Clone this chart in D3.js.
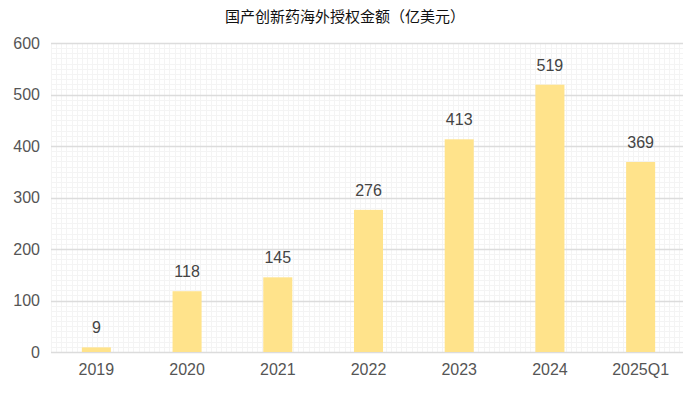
<!DOCTYPE html>
<html>
<head>
<meta charset="utf-8">
<script src="https://cdn.jsdelivr.net/npm/d3@7"></script>
<style>
  body { margin: 0; background: #fff; }
  svg { display: block; font-family: "Liberation Sans", "Noto Sans CJK SC", sans-serif; }
</style>
</head>
<body>
<svg id="chart" width="690" height="397"></svg>
<script>
const title = '国产创新药海外授权金额（亿美元）';
const years = ['2019', '2020', '2021', '2022', '2023', '2024', '2025Q1'];
const amounts = [9, 118, 145, 276, 413, 519, 369];
const yTicks = [0, 100, 200, 300, 400, 500, 600];

const width = 690, height = 397;
const margin = { top: 43, right: 7, bottom: 45, left: 51 };

const svg = d3.select('#chart');

const x = d3.scaleBand()
  .domain(years)
  .range([margin.left, width - margin.right + 3])
  .paddingInner(0.68)
  .paddingOuter(0.34);

const y = d3.scaleLinear()
  .domain([0, 600])
  .range([height - margin.bottom, margin.top]);

// fine background grid
const minorY = d3.range(0, 601, 10);
svg.append('g')
  .selectAll('line')
  .data(minorY)
  .join('line')
  .attr('x1', margin.left)
  .attr('x2', width - margin.right)
  .attr('y1', (d) => Math.round(y(d)) + 0.5)
  .attr('y2', (d) => Math.round(y(d)) + 0.5)
  .attr('stroke', '#f4f4f4');

const step = y(0) - y(10);
const minorX = d3.range(margin.left, width - margin.right, step);
svg.append('g')
  .selectAll('line')
  .data(minorX)
  .join('line')
  .attr('x1', (d) => Math.round(d) + 0.5)
  .attr('x2', (d) => Math.round(d) + 0.5)
  .attr('y1', y(600))
  .attr('y2', y(0))
  .attr('stroke', '#f4f4f4');

// major grid lines
svg.append('g')
  .selectAll('line')
  .data(yTicks)
  .join('line')
  .attr('x1', margin.left)
  .attr('x2', width - margin.right)
  .attr('y1', (d) => Math.round(y(d)) + 0.5)
  .attr('y2', (d) => Math.round(y(d)) + 0.5)
  .attr('stroke', '#dcdcdc')
  .attr('stroke-width', 1.3);

// y axis labels
svg.append('g')
  .attr('transform', `translate(${margin.left - 11},0)`)
  .call(d3.axisLeft(y).tickValues(yTicks).tickSize(0).tickPadding(0))
  .call((g) => g.select('.domain').remove())
  .selectAll('text')
  .attr('fill', '#555')
  .style('font-family', '"Liberation Sans", sans-serif')
  .style('font-size', '16px');

// x axis labels
svg.append('g')
  .attr('transform', `translate(0,${y(0)})`)
  .call(d3.axisBottom(x).tickSize(0).tickPadding(12))
  .call((g) => g.select('.domain').remove())
  .selectAll('text')
  .attr('fill', '#555')
  .style('font-family', '"Liberation Sans", sans-serif')
  .style('font-size', '16px');

// bars
svg.append('g')
  .selectAll('rect')
  .data(amounts)
  .join('rect')
  .attr('x', (d, i) => x(years[i]))
  .attr('y', (d) => y(d))
  .attr('width', x.bandwidth())
  .attr('height', (d) => y(0) - y(d))
  .attr('fill', '#ffe38b');

// value labels
svg.append('g')
  .selectAll('text')
  .data(amounts)
  .join('text')
  .attr('x', (d, i) => x(years[i]) + x.bandwidth() / 2)
  .attr('y', (d) => y(d) - 14)
  .attr('text-anchor', 'middle')
  .attr('fill', '#444')
  .style('font-size', '16px')
  .text((d) => d);

// title
svg.append('text')
  .attr('x', width / 2)
  .attr('y', 22)
  .attr('text-anchor', 'middle')
  .attr('fill', '#111')
  .style('font-family', '"Noto Sans CJK SC", sans-serif')
  .style('font-size', '15px')
  .text(title);
</script>
</body>
</html>
